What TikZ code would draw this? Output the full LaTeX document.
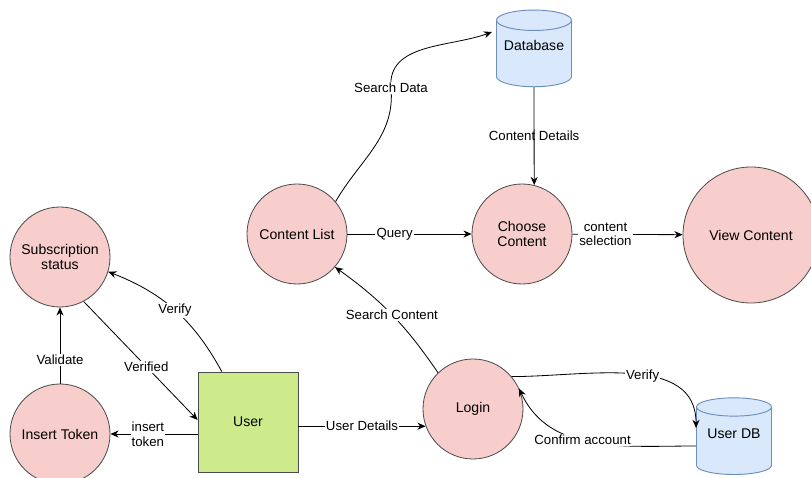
\documentclass[tikz,border=0pt]{standalone}
\usepackage{fontspec}
\setmainfont{Liberation Sans}
\usetikzlibrary{shapes.geometric,arrows.meta,calc}

\definecolor{procred}{HTML}{F8CECC}
\definecolor{entgreen}{HTML}{CDEB8B}
\definecolor{dbblue}{HTML}{DAE8FC}
\definecolor{dbline}{HTML}{6C8EBF}

\tikzset{
  proc/.style={circle, draw=black!70, fill=procred, line width=0.7pt, minimum size=3cm, align=center, font=\fontsize{12}{13.5}\selectfont},
  ent/.style={rectangle, draw=black!70, fill=entgreen, line width=0.7pt, minimum size=3cm, font=\fontsize{12}{13.5}\selectfont},
  store/.style={cylinder, shape border rotate=90, aspect=0.3, draw=dbline, fill=dbblue, line width=0.8pt, minimum width=2.25cm, minimum height=2.3cm, font=\fontsize{12}{13.5}\selectfont},
  storetext/.style={font=\fontsize{12}{13.5}\selectfont, inner sep=0pt},
  flow/.style={-{Stealth[length=7pt,width=6pt]}, line width=0.7pt},
  lbl/.style={fill=white, inner sep=1pt, align=center, font=\fontsize{11.3}{12.5}\selectfont}
}

\begin{document}
\begin{tikzpicture}[x=0.03cm,y=0.03cm]
	\useasboundingbox (0,0) rectangle (811,478);
	% processes and stores
	\node[store, label={[storetext, yshift=0.33cm]center:Database}] (db) at (534,422) {\phantom{Database}};
	\node[proc] (clist) at (297,244) {Content List};
	\node[proc] (choose) at (522,244) {Choose\\Content};
	\node[proc, minimum size=4.08cm] (view) at (751,243) {View Content};
	\node[proc] (subs) at (60,221) {Subscription\\status};
	\node[proc] (token) at (60,44) {Insert Token};
	\node[ent] (user) at (248,56) {User};
	\node[proc] (login) at (473,69) {Login};
	\node[store, label={[storetext, yshift=0.27cm]center:User DB}] (userdb) at (734,35) {\phantom{User DB}};
	\coordinate (sd) at (391,390);
	% flows
	\draw[flow] (clist.40) to[out=60,in=-85] (sd) node[lbl] {Search Data} to[out=95,in=200] ($(db.center)+(-42,24)$);
	\draw[flow] (db.south) -- node[lbl, fill=none] {Content Details} (choose.76);
	\draw[flow] (clist) -- node[lbl, pos=0.38] {Query} (choose);
	\draw[flow] (choose) -- node[lbl, pos=0.3] {content\\selection} (view);
	\draw[flow] (login.134) to[bend right=10] node[lbl] {Search Content} (clist.-41);
	\draw[flow] ($(user.north west)!0.24!(user.north east)$) to[bend right=20] node[lbl] {Verify} (subs.-17);
	\draw[flow] (subs.-62) -- node[lbl, pos=0.55] {Verified} ($(user.north west)!0.48!(user.south west)$);
	\draw[flow] (token) -- node[lbl, pos=0.31] {Validate} (subs);
	\draw[flow] (user.west |- token.east) -- node[lbl, pos=0.57] {insert\\token} (token.east);
	\draw[flow] (user.east |- login.200) -- node[lbl] {User Details} (login.200);
	\draw[flow] (login.40) to[out=0,in=90] node[lbl, pos=0.55] {Verify} ($(userdb.center)+(-38,15)$);
	\draw[flow] ($(userdb.center)+(-38,-3)$) to[out=180,in=-65] node[lbl, pos=0.55] {Confirm account} (login.24);
\end{tikzpicture}
\end{document}
